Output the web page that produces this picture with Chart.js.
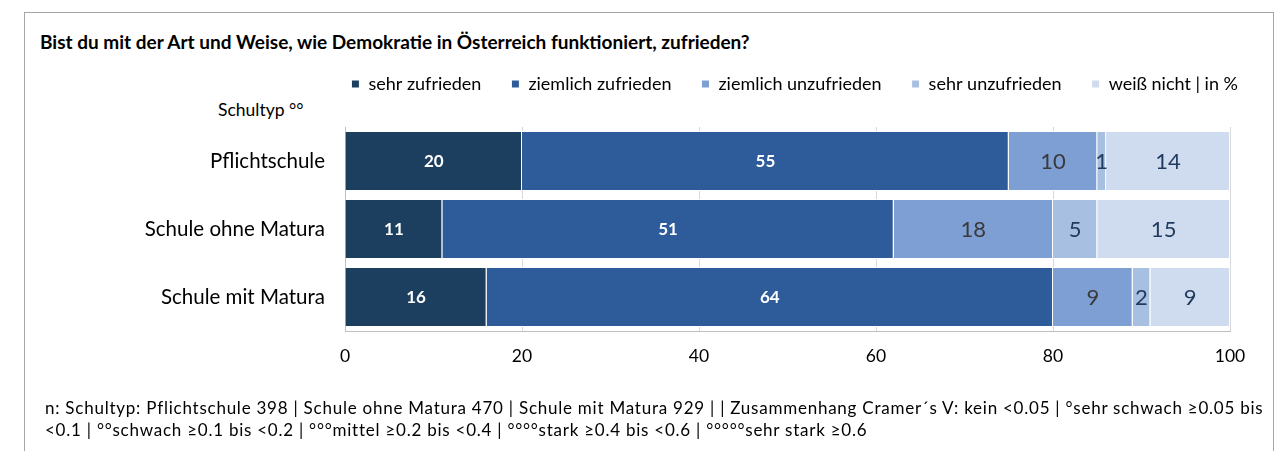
<!DOCTYPE html>
<html>
<head>
<meta charset="utf-8">
<script src="https://cdn.jsdelivr.net/npm/chart.js@4.4.1/dist/chart.umd.min.js"></script>
<style>
  html, body { margin:0; padding:0; background:#fff; width:1287px; height:451px; overflow:hidden; }
  body { position:relative; font-family: Lato, "Open Sans", sans-serif; color:#000; }
  #frame { position:absolute; left:24px; top:12px; width:1250px; height:460px; border:1px solid #A6A6A6; box-sizing:border-box; }
  #title { position:absolute; left:40px; top:31px; font-weight:bold; font-size:19px; line-height:22px; white-space:nowrap; }
  #ylab { position:absolute; left:218px; top:99px; font-size:17.5px; line-height:21px; white-space:nowrap; }
  #foot { position:absolute; left:45px; top:397px; font-size:17px; letter-spacing:0.76px; line-height:22px; white-space:nowrap; color:#000; }
  canvas { position:absolute; left:0; top:0; }
</style>
</head>
<body>
<div id="frame"></div>
<div id="title">Bist du mit der Art und Weise, wie Demokratie in Österreich funktioniert, zufrieden?</div>
<div id="ylab">Schultyp °°</div>
<canvas id="c" width="1287" height="451"></canvas>
<div id="foot">n: Schultyp: Pflichtschule 398 | Schule ohne Matura 470 | Schule mit Matura 929 | | Zusammenhang Cramer´s V: kein &lt;0.05 | °sehr schwach ≥0.05 bis<br>&lt;0.1 | °°schwach ≥0.1 bis &lt;0.2 | °°°mittel ≥0.2 bis &lt;0.4 | °°°°stark ≥0.4 bis &lt;0.6 | °°°°°sehr stark ≥0.6</div>
<script>
const categories = ['Pflichtschule', 'Schule ohne Matura', 'Schule mit Matura'];
const seriesNames = ['sehr zufrieden', 'ziemlich zufrieden', 'ziemlich unzufrieden', 'sehr unzufrieden', 'weiß nicht | in %'];
const sehrZufrieden = [20, 11, 16];
const ziemlichZufrieden = [55, 51, 64];
const ziemlichUnzufrieden = [10, 18, 9];
const sehrUnzufrieden = [1, 5, 2];
const weissNicht = [14, 15, 9];
const xTicks = [0, 20, 40, 60, 80, 100];

const colors = ['#1D3F5F', '#2E5C9A', '#7E9FD3', '#A7BFE1', '#CFDBEE'];
const labelColors = ['#FFFFFF', '#FFFFFF', '#3A3A3A', '#1F3A5C', '#1F3A5C'];
const labelFonts = ['bold 17px Lato', 'bold 17px Lato', '22px Lato', '22px Lato', '22px Lato'];
const seriesData = [sehrZufrieden, ziemlichZufrieden, ziemlichUnzufrieden, sehrUnzufrieden, weissNicht];

const valueLabels = {
  id: 'valueLabels',
  afterDatasetsDraw(chart) {
    const ctx = chart.ctx;
    ctx.save();
    ctx.textAlign = 'center';
    ctx.textBaseline = 'middle';
    chart.data.datasets.forEach((ds, i) => {
      const meta = chart.getDatasetMeta(i);
      meta.data.forEach((el, j) => {
        const p = el.getProps(['x', 'y', 'base'], true);
        ctx.fillStyle = labelColors[i];
        ctx.font = labelFonts[i];
        ctx.fillText(String(ds.data[j]), (p.x + p.base) / 2, p.y + 1);
      });
    });
    ctx.restore();
  }
};

const legendSpace = {
  id: 'legendSpace',
  beforeInit(chart) {
    const fit = chart.legend.fit;
    chart.legend.fit = function () {
      fit.call(this);
      this.height = 82;
    };
  },
  afterLayout(chart) {
    const lg = chart.legend;
    lg.right += 38;
    lg.width += 38;
  }
};

new Chart(document.getElementById('c'), {
  type: 'bar',
  data: {
    labels: categories,
    datasets: seriesNames.map((n, i) => ({
      label: n,
      data: seriesData[i],
      backgroundColor: colors[i],
      borderColor: '#FFFFFF',
      borderWidth: 1,
      barPercentage: 0.88,
      categoryPercentage: 1.0
    }))
  },
  options: {
    indexAxis: 'y',
    responsive: false,
    animation: false,
    devicePixelRatio: 1,
    layout: { padding: { left: 0, right: 57, top: 45, bottom: 80 } },
    plugins: {
      legend: {
        position: 'top',
        align: 'end',
        labels: {
          boxWidth: 8, boxHeight: 8, padding: 30,
          color: '#000',
          font: { family: 'Lato', size: 18 }
        }
      },
      title: { display: false },
      tooltip: { enabled: false }
    },
    scales: {
      x: {
        stacked: true,
        min: 0, max: 100,
        afterBuildTicks(scale) { scale.ticks = xTicks.map(v => ({ value: v })); },
        afterFit(scale) { scale.height = 40; },
        ticks: { color: '#000', font: { family: 'Lato', size: 17.5 }, padding: 15 },
        grid: { color: '#D9D9D9', tickLength: 0 },
        border: { color: '#BFBFBF' }
      },
      y: {
        stacked: true,
        afterFit(scale) { scale.width = 345; },
        ticks: { color: '#000', font: { family: 'Lato', size: 20.5 }, padding: 12 },
        grid: { display: false },
        border: { color: '#BFBFBF' }
      }
    }
  },
  plugins: [valueLabels, legendSpace]
});
</script>
</body>
</html>
